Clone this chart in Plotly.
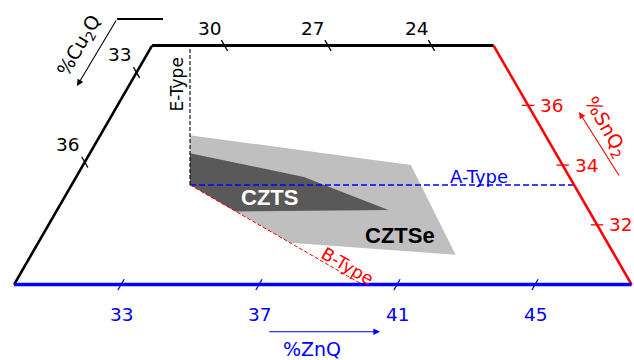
import numpy as np
import plotly.graph_objects as go

# ---------------- data (mol %, order: Cu2Q, ZnQ, SnQ2) ----------------
SN_MIN, SN_MAX = 30.0, 38.0      # bottom / top edges (constant SnQ2)
ZN_MIN = 29.9                    # left edge (constant ZnQ)
CU_MIN = 22.2                    # right edge (constant Cu2Q)

stoich = (100 / 3, 100 / 3, 100 / 3)

znq_ticks = [33, 37, 41, 45]         # bottom edge
cu_top_ticks = [30, 27, 24]          # top edge
cu_left_ticks = [33, 36]             # left edge
sn_right_ticks = [32, 34, 36]        # right edge

cztse_cu = [32.5, 26.6, 26.8, 31.4, 33.33]
cztse_zn = [32.5, 39.4, 42.2, 37.2, 33.33]
cztse_sn = [35.0, 34.0, 31.0, 31.4, 33.34]

czts_cu = [32.8, 29.9, 28.0, 32.45, 33.33]
czts_zn = [32.8, 36.5, 39.5, 35.1, 33.33]
czts_sn = [34.4, 33.6, 32.5, 32.45, 33.34]

czts_label = (31.26, 35.84, 32.90)
cztse_label = (28.07, 40.27, 31.66)

# ---------------- helpers ----------------
R3 = np.sqrt(3) / 2


def tern(cu, zn, sn):
    cu, zn, sn = (np.asarray(v, dtype=float) for v in (cu, zn, sn))
    tot = cu + zn + sn
    zn = zn / tot * 100
    sn = sn / tot * 100
    return zn + sn / 2, sn * R3


K = 34.5                       # px per composition %
sx, sy = tern(*stoich)
X0, Y0 = 190, 185
xmin = float(sx) - X0 / K
xmax = xmin + 634 / K
ymax = float(sy) + Y0 / K
ymin = ymax - 360 / K

fig = go.Figure()

# shaded regions
x, y = tern(cztse_cu, cztse_zn, cztse_sn)
fig.add_trace(go.Scatter(x=x, y=y, fill="toself", fillcolor="#bfbfbf",
                         line=dict(width=0), mode="lines", hoverinfo="skip"))
x, y = tern(czts_cu, czts_zn, czts_sn)
fig.add_trace(go.Scatter(x=x, y=y, fill="toself", fillcolor="#595959",
                         line=dict(width=0), mode="lines", hoverinfo="skip"))

# defect lines from stoichiometric point
s_cu, s_zn, s_sn = stoich
e_end = ((100 - SN_MAX) / 2, (100 - SN_MAX) / 2, SN_MAX)
a_end = (CU_MIN, 100 - CU_MIN - s_sn, s_sn)
b_end = (SN_MIN, 100 - 2 * SN_MIN, SN_MIN)
for end, col, dash, w in [(e_end, "black", "4px,2px", 1.1),
                          (a_end, "#0000ff", "6px,3px", 1.3),
                          (b_end, "#ff0000", "4px,2px", 1.0)]:
    x, y = tern([s_cu, end[0]], [s_zn, end[1]], [s_sn, end[2]])
    fig.add_trace(go.Scatter(x=x, y=y, mode="lines",
                             line=dict(color=col, width=w, dash=dash),
                             hoverinfo="skip"))

# frame
BL = (100 - SN_MIN - ZN_MIN, ZN_MIN, SN_MIN)
TL = (100 - SN_MAX - ZN_MIN, ZN_MIN, SN_MAX)
TR = (CU_MIN, 100 - CU_MIN - SN_MAX, SN_MAX)
BR = (CU_MIN, 100 - CU_MIN - SN_MIN, SN_MIN)
for p, q, col, w in [(BL, TL, "black", 2.6), (TL, TR, "black", 3),
                     (TR, BR, "#ff0000", 2.6), (BL, BR, "#0000ff", 3.5)]:
    x, y = tern([p[0], q[0]], [p[1], q[1]], [p[2], q[2]])
    fig.add_trace(go.Scatter(x=x, y=y, mode="lines",
                             line=dict(color=col, width=w), hoverinfo="skip"))

# ticks
D = 0.18


def tick_trace(points, dirv, col):
    xs, ys = [], []
    for cu, zn, sn in points:
        x, y = tern([cu - D * dirv[0], cu + D * dirv[0]],
                    [zn - D * dirv[1], zn + D * dirv[1]],
                    [sn - D * dirv[2], sn + D * dirv[2]])
        xs += list(x) + [None]
        ys += list(y) + [None]
    return go.Scatter(x=xs, y=ys, mode="lines", line=dict(color=col, width=1.3),
                      hoverinfo="skip")


zn_pts = [(100 - SN_MIN - z, z, SN_MIN) for z in znq_ticks]
top_pts = [(c, 100 - SN_MAX - c, SN_MAX) for c in cu_top_ticks]
left_pts = [(c, ZN_MIN, 100 - ZN_MIN - c) for c in cu_left_ticks]
right_pts = [(CU_MIN, 100 - CU_MIN - s, s) for s in sn_right_ticks]

fig.add_trace(tick_trace(zn_pts, (-1, 0, 1), "#0000ff"))
fig.add_trace(tick_trace(top_pts, (0, -1, 1), "black"))
fig.add_trace(tick_trace(left_pts, (0, -1, 1), "black"))
fig.add_trace(tick_trace(right_pts, (-1, 1, 0), "#ff0000"))

FONT = "DejaVu Sans"
ann = []


def labels(points, values, col, xs, ys):
    for p, v in zip(points, values):
        x, y = tern(*p)
        ann.append(dict(x=float(x), y=float(y), xref="x", yref="y", text=str(v),
                        showarrow=False, xshift=xs, yshift=ys,
                        xanchor="center", yanchor="middle",
                        font=dict(family=FONT, size=18.5, color=col)))


labels(zn_pts, znq_ticks, "#0000ff", 1, -30)
labels(top_pts, cu_top_ticks, "black", -15, 17)
labels(left_pts, cu_left_ticks, "black", -17, 18)
labels(right_pts, sn_right_ticks, "#ff0000", 24, 0)

# region labels
for pos, txt, col in [(czts_label, "CZTS", "white"), (cztse_label, "CZTSe", "black")]:
    x, y = tern(*pos)
    ann.append(dict(x=float(x), y=float(y), xref="x", yref="y", text="<b>%s</b>" % txt,
                    showarrow=False, xanchor="center", yanchor="middle",
                    font=dict(family="Liberation Sans", size=22, color=col)))


def P(px, py):
    return px / 634, 1 - py / 360


# defect type labels
for (px, py), txt, col, ang, fs in [((176.5, 85), "E-Type", "black", -90, 17),
                                    ((479, 176), "A-Type", "#0000ff", 0, 18),
                                    ((347, 266), "B-Type", "#ff0000", 30, 17.5)]:
    a, b = P(px, py)
    ann.append(dict(x=a, y=b, xref="paper", yref="paper", text=txt, showarrow=False,
                    xanchor="center", yanchor="middle",
                    textangle=ang, font=dict(family=FONT, size=fs, color=col)))

# axis titles
for (px, py), txt, col, ang in [((79, 46), "%Cu<sub>2</sub>Q", "black", -60),
                                ((606, 127), "%SnQ<sub>2</sub>", "#ff0000", 60),
                                ((312, 349), "%ZnQ", "#0000ff", 0)]:
    a, b = P(px, py)
    ann.append(dict(x=a, y=b, xref="paper", yref="paper", text=txt, showarrow=False,
                    xanchor="center", yanchor="middle",
                    textangle=ang, font=dict(family=FONT, size=19, color=col)))

# direction arrows
for (hx, hy), (tx, ty), col in [((77, 86), (117, 19), "black"),
                                ((579, 112), (620, 177), "#ff0000"),
                                ((380, 331.7), (267.7, 331.7), "#0000ff")]:
    a, b = P(hx, hy)
    ann.append(dict(x=a, y=b, xref="paper", yref="paper", text="", showarrow=True,
                    ax=tx - hx, ay=ty - hy, arrowhead=2, arrowsize=1.2,
                    arrowwidth=1.1, arrowcolor=col))

a1, b1 = P(117, 19)
a2, b2 = P(163, 19)
shapes = [dict(type="line", xref="paper", yref="paper", x0=a1, y0=b1, x1=a2, y1=b2,
               line=dict(color="black", width=2))]

fig.update_layout(
    width=634, height=360, autosize=False,
    margin=dict(l=0, r=0, t=0, b=0),
    paper_bgcolor="white", plot_bgcolor="white",
    showlegend=False,
    xaxis=dict(range=[xmin, xmax], visible=False, fixedrange=True),
    yaxis=dict(range=[ymin, ymax], visible=False, fixedrange=True),
    annotations=ann, shapes=shapes,
)

fig.write_html("out.html", config={"displayModeBar": False},
               post_script="document.body.style.margin='0px';")
